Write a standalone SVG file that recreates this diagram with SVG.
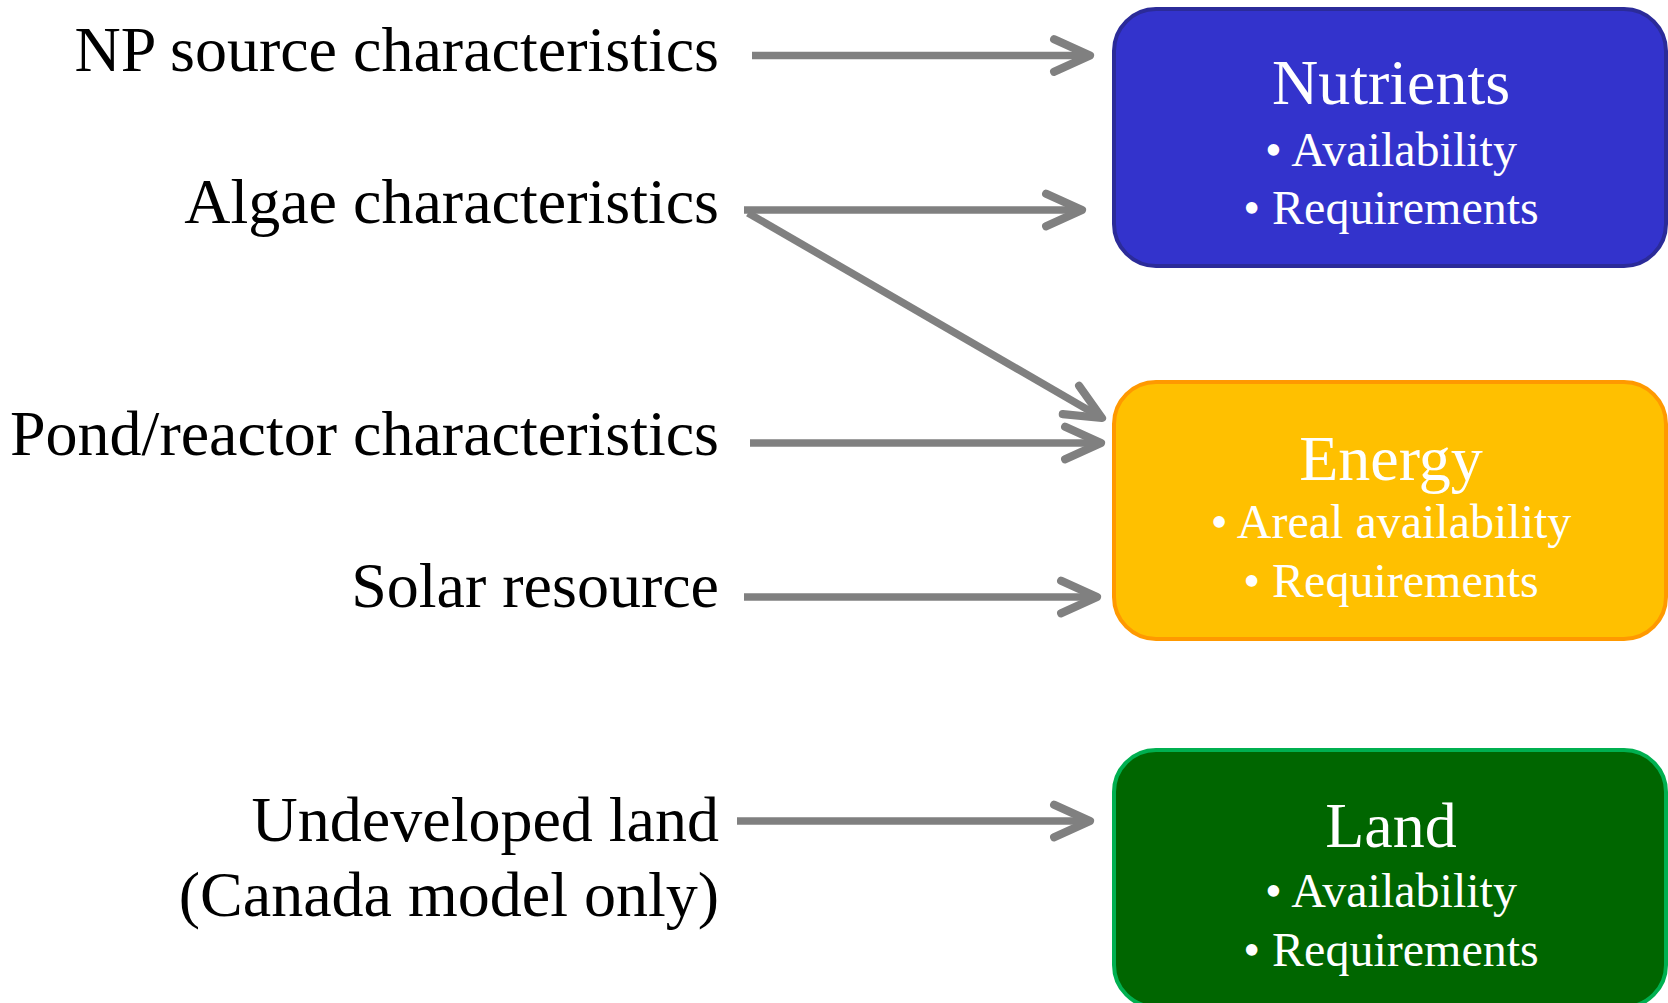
<svg xmlns="http://www.w3.org/2000/svg" width="1668" height="1003" viewBox="0 0 1668 1003">
<style>
.lbl{font-family:"Liberation Serif","Times New Roman",serif;font-size:64px;fill:#000;text-anchor:end}
.ttl{font-family:"Liberation Serif","Times New Roman",serif;font-size:64px;fill:#fff;text-anchor:middle}
.itm{font-family:"Liberation Serif","Times New Roman",serif;font-size:48px;fill:#fff;text-anchor:middle}
.conn{stroke:#808080;stroke-width:7.5;fill:none;marker-end:url(#chev)}
</style>
<defs>
<marker id="chev" markerUnits="userSpaceOnUse" orient="auto" refX="0" refY="0" markerWidth="50" markerHeight="50" viewBox="-40 -22 46 44" overflow="visible">
<path d="M -33 -15 L 0 0 L -33 15" fill="none" stroke="#808080" stroke-width="7.5" stroke-linecap="round" stroke-linejoin="round"/>
</marker>
</defs>
<rect width="1668" height="1003" fill="#fff"/>
<g id="labels">
<g id="lbl-np"><text class="lbl" x="719" y="71">NP source characteristics</text></g>
<g id="lbl-algae"><text class="lbl" x="719" y="223">Algae characteristics</text></g>
<g id="lbl-pond"><text class="lbl" x="719" y="455">Pond/reactor characteristics</text></g>
<g id="lbl-solar"><text class="lbl" x="719" y="607">Solar resource</text></g>
<g id="lbl-land"><text class="lbl" x="719" y="841">Undeveloped land</text><text class="lbl" x="719" y="916">(Canada model only)</text></g>
</g>
<g id="nutrients">
<rect x="1114" y="9" width="552" height="257" rx="42" fill="#3333CC" stroke="#2B2B99" stroke-width="4"/>
<text class="ttl" x="1391" y="104">Nutrients</text>
<text class="itm" x="1391" y="166">• Availability</text>
<text class="itm" x="1391" y="224">• Requirements</text>
</g>
<g id="energy">
<rect x="1114" y="382" width="552" height="257" rx="42" fill="#FFC000" stroke="#FF9900" stroke-width="4"/>
<text class="ttl" x="1391" y="480">Energy</text>
<text class="itm" x="1391" y="538">• Areal availability</text>
<text class="itm" x="1391" y="597">• Requirements</text>
</g>
<g id="land">
<rect x="1114" y="750" width="552" height="257" rx="42" fill="#006600" stroke="#00B050" stroke-width="4"/>
<text class="ttl" x="1391" y="847">Land</text>
<text class="itm" x="1391" y="907">• Availability</text>
<text class="itm" x="1391" y="966">• Requirements</text>
</g>
<g id="connectors">
<line class="conn" x1="752" y1="55.5" x2="1090" y2="55.5"/>
<line class="conn" x1="744" y1="210" x2="1082" y2="210"/>
<line class="conn" x1="748" y1="213" x2="1102" y2="418"/>
<line class="conn" x1="750" y1="443" x2="1101" y2="443"/>
<line class="conn" x1="744" y1="597" x2="1097" y2="597"/>
<line class="conn" x1="737" y1="821" x2="1090" y2="821"/>
</g>
</svg>
